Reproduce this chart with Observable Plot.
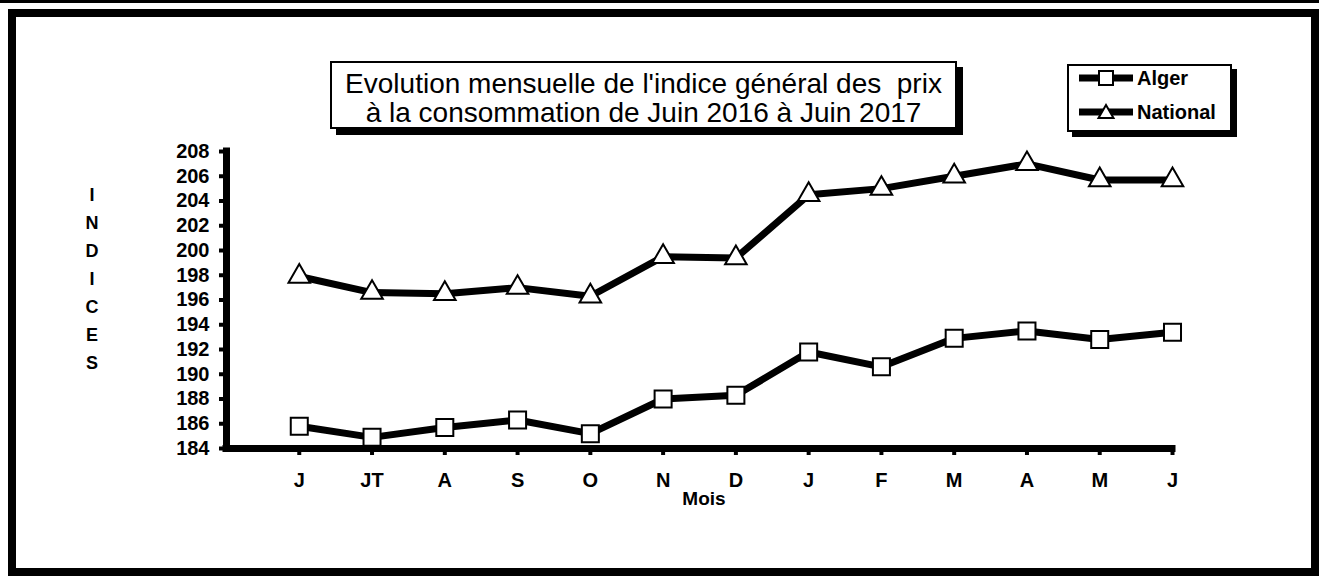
<!DOCTYPE html>
<html>
<head>
<meta charset="utf-8">
<script src="https://cdn.jsdelivr.net/npm/d3@7"></script>
<script src="https://cdn.jsdelivr.net/npm/@observablehq/plot@0.6"></script>
<style>
  html, body { margin: 0; padding: 0; background: #fff; }
  body { width: 1319px; height: 576px; overflow: hidden; font-family: "Liberation Sans", Arial, sans-serif; }
  #wrap { position: relative; width: 1319px; height: 576px; }
  #wrap svg.plot { position: absolute; left: 0; top: 0; }
  .topline { position: absolute; left: 0; top: 0; width: 1319px; height: 3px; background: #000; }
  .frame { position: absolute; left: 8px; top: 9px; width: 1311px; height: 567px; border: 8px solid #000; box-sizing: border-box; }
  .title { position: absolute; left: 330px; top: 61px; width: 627px; height: 68px; box-sizing: border-box;
           border: 2px solid #000; box-shadow: 6px 6px 0 #000; background: #fff; padding-top: 6px;
           text-align: center; font-size: 28px; line-height: 29px; color: #000; white-space: nowrap; }
  .legend { position: absolute; left: 1067px; top: 64px; width: 165px; height: 68px; box-sizing: border-box;
            border: 2px solid #000; box-shadow: 5px 5px 0 #000; background: #fff; }
  .legend .row { position: absolute; left: 10px; height: 24px; display: flex; align-items: center; font-weight: bold; font-size: 20px; }
  .legend svg { margin-right: 4px; }
  .ylab { position: absolute; left: 82px; top: 181px; width: 20px; text-align: center; font-weight: bold; font-size: 18px; line-height: 28px; }
  .xlab { position: absolute; left: 649px; top: 488px; width: 110px; text-align: center; font-weight: bold; font-size: 19px; }
</style>
</head>
<body>
<div id="wrap">
  <div class="topline"></div>
  <div class="frame"></div>
</div>
<script>
// ---- data ----
const months = ["J", "JT", "A", "S", "O", "N", "D", "J", "F", "M", "A", "M", "J"];
const algerValues = [185.8, 184.9, 185.7, 186.3, 185.2, 188.0, 188.3, 191.8, 190.6, 192.9, 193.5, 192.8, 193.4];
const nationalValues = [197.9, 196.6, 196.5, 197.0, 196.3, 199.5, 199.4, 204.5, 205.0, 206.0, 207.0, 205.7, 205.7];
const seriesNames = ["Alger", "National"];
const yTicks = [184, 186, 188, 190, 192, 194, 196, 198, 200, 202, 204, 206, 208];
const titleLines = ["Evolution mensuelle de l'indice général des\u00a0 prix", "à la consommation de Juin 2016 à Juin 2017"];
const yLabel = "INDICES";
const xLabel = "Mois";

const alger = months.map((m, i) => ({i, month: m, value: algerValues[i], series: seriesNames[0]}));
const national = months.map((m, i) => ({i, month: m, value: nationalValues[i], series: seriesNames[1]}));
const all = alger.concat(national);

const font = "'Liberation Sans', Arial, sans-serif";

const chart = Plot.plot({
  width: 1319,
  height: 576,
  marginLeft: 226,
  marginRight: 147,
  marginTop: 151,
  marginBottom: 128,
  style: {fontFamily: font, background: "transparent", overflow: "visible"},
  x: {domain: [-1, 12], axis: null},
  y: {domain: [184, 208], axis: null},
  marks: [
    Plot.axisY({ticks: yTicks, tickSize: 7, strokeWidth: 4, stroke: "#000", tickPadding: 10, fontWeight: "bold", fontSize: 20, fill: "#000", label: null}),
    Plot.axisX({ticks: d3.range(0, months.length), tickFormat: i => months[i], tickSize: 7, strokeWidth: 4, stroke: "#000", tickPadding: 17, fontWeight: "bold", fontSize: 20, fill: "#000", label: null}),
    Plot.ruleX([-1], {stroke: "#000", strokeWidth: 7, strokeLinecap: "square"}),
    Plot.ruleY([184], {stroke: "#000", strokeWidth: 7, strokeLinecap: "square"}),
    Plot.line(all, {x: "i", y: "value", z: "series", stroke: "#000", strokeWidth: 7, strokeLinejoin: "round"}),
    Plot.dot(alger, {x: "i", y: "value", symbol: "square", r: 9.6, fill: "#fff", stroke: "#000", strokeWidth: 2}),
    Plot.dot(national, {x: "i", y: "value", symbol: "triangle", r: 8, fill: "#fff", stroke: "#000", strokeWidth: 2})
  ]
});
chart.classList.add("plot");
const wrap = document.getElementById("wrap");
wrap.insertBefore(chart, wrap.firstChild);

// title box
const t = document.createElement("div");
t.className = "title";
titleLines.forEach(l => { const d = document.createElement("div"); d.textContent = l; t.appendChild(d); });
wrap.appendChild(t);

// legend
const lg = document.createElement("div");
lg.className = "legend";
const symbols = ["square", "triangle"];
seriesNames.forEach((name, k) => {
  const row = document.createElement("div");
  row.className = "row";
  row.style.top = (k === 0 ? 0 : 34) + "px";
  const sym = symbols[k] === "square"
    ? '<rect x="20" y="5" width="14" height="14" fill="#fff" stroke="#000" stroke-width="2"/>'
    : '<path d="M27,5 L34.5,18 L19.5,18 Z" fill="#fff" stroke="#000" stroke-width="2"/>';
  row.innerHTML = '<svg width="54" height="24"><line x1="0" y1="12" x2="54" y2="12" stroke="#000" stroke-width="7"/>' + sym + '</svg><span>' + name + '</span>';
  lg.appendChild(row);
});
wrap.appendChild(lg);

// vertical y label letters
const yl = document.createElement("div");
yl.className = "ylab";
yl.innerHTML = yLabel.split("").join("<br>");
wrap.appendChild(yl);

// x label
const xl = document.createElement("div");
xl.className = "xlab";
xl.textContent = xLabel;
wrap.appendChild(xl);
</script>
</body>
</html>
